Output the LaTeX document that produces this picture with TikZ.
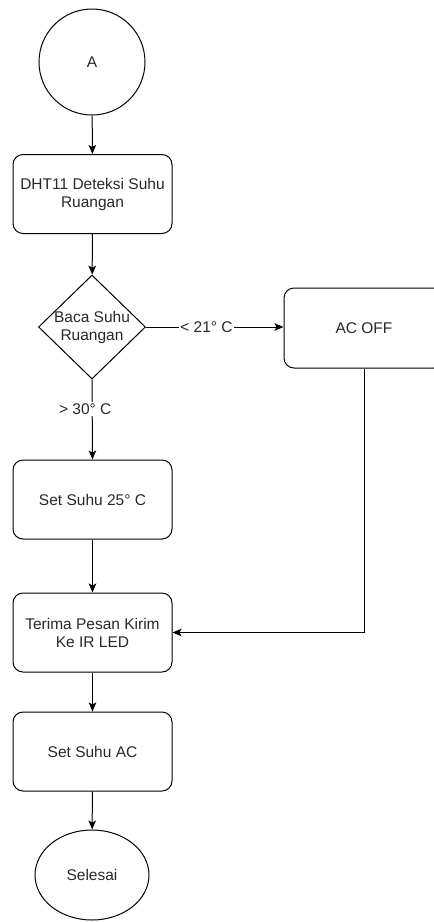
\documentclass[tikz,border=0pt]{standalone}
\usepackage{fontspec}
\setmainfont{Liberation Sans}
\usepackage{tikz}
\definecolor{txtgray}{RGB}{40,40,40}
\usetikzlibrary{shapes.geometric, arrows.meta}

\begin{document}
\begin{tikzpicture}[x=1pt, y=1pt,
				>={Stealth[length=9pt,width=7.5pt,inset=2pt]},   %Voreinstellung für Pfeilspitzen
				line width=1pt,
				font=\fontsize{15.5}{18}\selectfont,
				prozess/.style={draw, rounded corners=10pt, minimum width=159, minimum height=79, align=center, text=txtgray},
				kreis/.style={draw, circle, minimum size=106, inner sep=0pt, text=txtgray},
				entscheid/.style={draw, diamond, minimum width=107, minimum height=104, inner sep=0pt},
				ende/.style={draw, ellipse, minimum width=114, minimum height=90, inner sep=0pt, text=txtgray},
				beschr/.style={fill=white, inner sep=1.5pt, text=txtgray}]
				%Bildbereich
				\useasboundingbox (0,0) rectangle (434,-922);
				\clip (0,0) rectangle (434,-922);
				% Knoten zeichnen
				\node[kreis] (start) at (92,-62) {A};
				\node[prozess] (dht) at (92.5,-194) {DHT11 Deteksi Suhu\\Ruangan};
				\node[entscheid, label={[align=center, text=txtgray]center:Baca Suhu\\Ruangan}] (baca) at (92,-327) {};
				\node[prozess, minimum width=160, minimum height=80] (acoff) at (364,-328) {AC OFF};
				\node[prozess] (set25) at (92.5,-499.5) {Set Suhu 25° C};
				\node[prozess] (terima) at (92.5,-632.5) {Terima Pesan Kirim\\Ke IR LED};
				\node[prozess] (setac) at (92.5,-751.5) {Set Suhu AC};
				\node[ende] (selesai) at (92,-875) {Selesai};
				% Pfeile zeichnen
				\draw[->] (start) -- (dht);
				\draw[->] (dht) -- (baca);
				\draw[->] (baca.east) -- node[beschr, pos=0.44] {< 21° C} (acoff.west |- baca.east);
				\draw[->] (baca.south) -- node[beschr, pos=0.37, xshift=-7pt] {> 30° C} (set25.north);
				\draw[->] (set25) -- (terima);
				\draw[->] (acoff.south) |- (terima.east);
				\draw[->] (terima) -- (setac);
				\draw[->] (setac) -- (selesai);
			\end{tikzpicture}
\end{document}
